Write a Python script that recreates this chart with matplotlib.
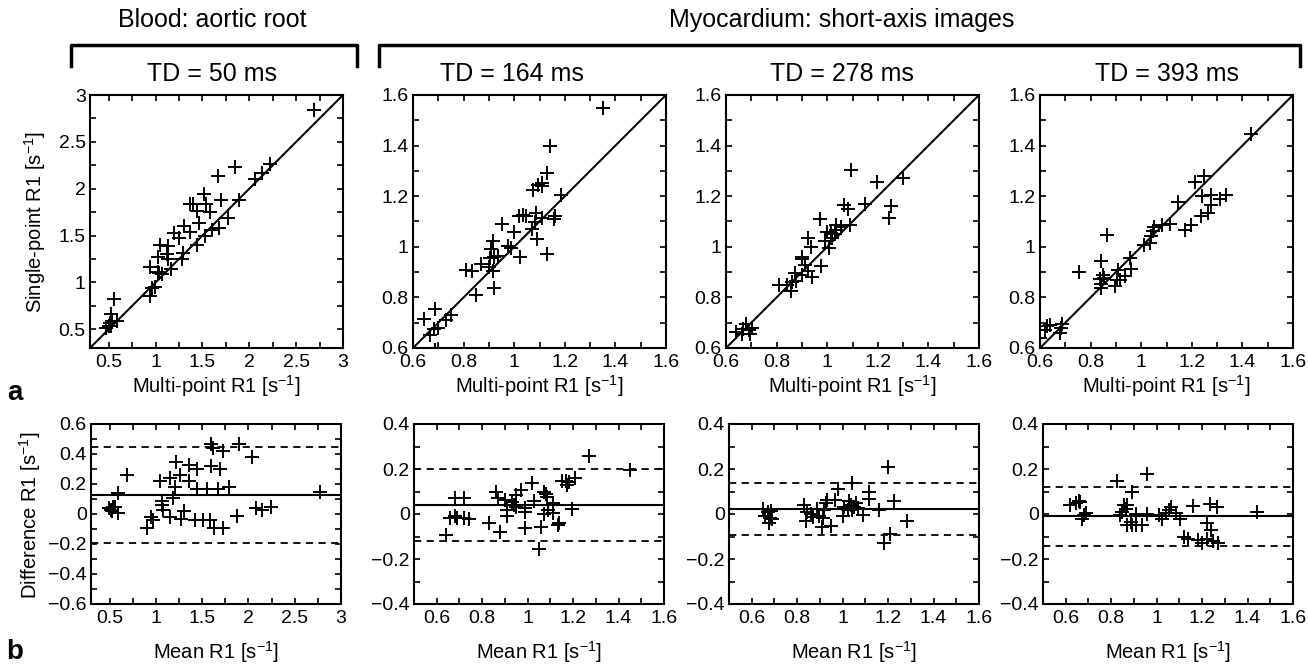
import numpy as np
import matplotlib.pyplot as plt
from matplotlib.lines import Line2D
from matplotlib.ticker import MultipleLocator, FuncFormatter

plt.rcParams['font.family'] = ['Liberation Sans', 'DejaVu Sans']
plt.rcParams['mathtext.default'] = 'regular'

# data: mean R1 and difference (single - multi)
td_labels = ["TD = 50 ms", "TD = 164 ms", "TD = 278 ms", "TD = 393 ms"]

mean_50 = [0.49, 0.52, 0.54, 0.56, 0.53, 0.59, 0.59, 0.69, 0.90, 0.95, 0.97, 1.05, 1.07, 1.07,
           1.08, 1.15, 1.15, 1.19, 1.21, 1.22, 1.26, 1.27, 1.30, 1.36, 1.36, 1.42, 1.45, 1.45,
           1.51, 1.55, 1.58, 1.60, 1.60, 1.62, 1.63, 1.67, 1.69, 1.73, 1.73, 1.79, 1.88, 1.90,
           2.04, 2.08, 2.15, 2.24, 2.77]
diff_50 = [0.04, 0.03, 0.045, 0.05, 0.02, 0.14, 0.005, 0.26, -0.09, -0.02, -0.04, 0.22, 0.09, 0.06,
           0.03, 0.24, -0.02, 0.11, 0.18, 0.35, 0.26, -0.03, 0.02, 0.33, 0.22, -0.04, 0.30, 0.17,
           -0.04, 0.17, -0.04, 0.32, 0.47, 0.44, -0.09, 0.17, 0.30, -0.09, 0.42, 0.18, -0.01, 0.47,
           0.38, 0.04, 0.03, 0.045, 0.15]

mean_164 = [0.64, 0.66, 0.68, 0.68, 0.69, 0.72, 0.72, 0.74, 0.83, 0.86, 0.87, 0.88, 0.90, 0.91,
            0.91, 0.93, 0.94, 0.95, 0.95, 0.97, 0.99, 0.99, 0.99, 1.02, 1.03, 1.05, 1.06, 1.07,
            1.08, 1.07, 1.085, 1.09, 1.11, 1.11, 1.135, 1.14, 1.15, 1.17, 1.175, 1.18, 1.195,
            1.21, 1.27, 1.45]
diff_164 = [-0.095, -0.016, 0.073, -0.008, -0.018, 0.07, -0.018, -0.023, -0.038, 0.10, 0.07,
            -0.082, 0.063, 0.018, -0.011, 0.055, 0.04, 0.03, 0.085, 0.107, 0.026, 0.008, -0.063,
            0.14, 0.06, -0.156, -0.058, 0.10, 0.089, 0.0, 0.075, 0.018, 0.004, 0.051, -0.048,
            -0.04, 0.148, 0.148, 0.13, 0.144, 0.021, 0.16, 0.26, 0.196]

mean_278 = [0.65, 0.66, 0.67, 0.675, 0.68, 0.686, 0.69, 0.83, 0.84, 0.845, 0.86, 0.87, 0.885,
            0.895, 0.91, 0.915, 0.92, 0.927, 0.93, 0.95, 0.967, 0.98, 1.0, 1.006, 1.025, 1.03,
            1.035, 1.04, 1.04, 1.05, 1.06, 1.066, 1.09, 1.115, 1.117, 1.16, 1.18, 1.20, 1.207,
            1.226, 1.285]
diff_278 = [0.023, -0.008, 0.007, -0.04, -0.018, 0.014, -0.023, 0.04, -0.033, 0.011, 0.0,
            -0.014, 0.023, -0.011, -0.058, -0.018, 0.018, 0.051, 0.063, -0.052, 0.063, 0.11,
            -0.011, 0.033, 0.016, 0.06, 0.04, 0.137, 0.018, 0.033, 0.051, 0.026, -0.004, 0.10,
            0.066, 0.018, -0.13, 0.208, -0.088, 0.06, -0.03]

mean_393 = [0.62, 0.646, 0.657, 0.664, 0.671, 0.68, 0.69, 0.826, 0.84, 0.846, 0.855, 0.865,
            0.87, 0.87, 0.885, 0.892, 0.893, 0.907, 0.91, 0.937, 0.956, 0.957, 1.01, 1.025,
            1.04, 1.054, 1.065, 1.085, 1.103, 1.12, 1.14, 1.162, 1.18, 1.20, 1.22, 1.22, 1.235,
            1.24, 1.25, 1.265, 1.27, 1.44]
diff_393 = [0.042, 0.05, 0.058, 0.052, -0.02, -0.003, 0.006, 0.147, -0.003, 0.01, 0.038, 0.023,
            -0.049, 0.04, -0.035, 0.10, -0.05, 0.0, -0.05, -0.049, 0.18, 0.0, -0.006, -0.02,
            0.006, 0.016, 0.03, 0.006, -0.024, -0.104, -0.11, 0.034, -0.114, -0.13, -0.11,
            -0.04, 0.045, -0.07, -0.12, 0.03, -0.13, 0.01]

# bias and limits of agreement
bias = [0.13, 0.04, 0.022, -0.008]
upper_loa = [0.445, 0.198, 0.138, 0.12]
lower_loa = [-0.19, -0.12, -0.094, -0.14]

means = [mean_50, mean_164, mean_278, mean_393]
diffs = [diff_50, diff_164, diff_278, diff_393]

scatter_lims = [(0.3, 3), (0.6, 1.6), (0.6, 1.6), (0.6, 1.6)]
scatter_major = [0.5, 0.2, 0.2, 0.2]
ba_xlims = [(0.3, 3), (0.5, 1.6), (0.5, 1.6), (0.5, 1.6)]
ba_ylims = [(-0.6, 0.6), (-0.4, 0.4), (-0.4, 0.4), (-0.4, 0.4)]

W, H = 1308, 665
fig = plt.figure(figsize=(W / 100, H / 100), dpi=100)


def px_axes(l, t, w, h):
    return fig.add_axes([l / W, 1 - (t + h) / H, w / W, h / H])


def fmt(v, pos):
    return ('%g' % round(v, 3)).replace('-', '\u2212')


def style(ax, xmaj, ymaj):
    for s in ax.spines.values():
        s.set_linewidth(1.5)
    ax.xaxis.set_major_locator(MultipleLocator(xmaj))
    ax.xaxis.set_minor_locator(MultipleLocator(xmaj / 2))
    ax.yaxis.set_major_locator(MultipleLocator(ymaj))
    ax.yaxis.set_minor_locator(MultipleLocator(ymaj / 2))
    ax.xaxis.set_major_formatter(FuncFormatter(fmt))
    ax.yaxis.set_major_formatter(FuncFormatter(fmt))
    ax.tick_params(which='both', direction='in', top=True, right=True, width=1.2,
                   labelsize=14, pad=4)
    ax.tick_params(axis='y', which='both', pad=3)
    ax.tick_params(which='major', length=4)
    ax.tick_params(which='minor', length=4)


top_lefts = [90, 413, 726, 1040]
bot_lefts = [91, 414, 729, 1043]

for i in range(4):
    m = np.array(means[i])
    d = np.array(diffs[i])
    multi = m - d / 2
    single = m + d / 2

    # scatter: single vs multi point
    ax = px_axes(top_lefts[i], 95, 253, 253)
    lo, hi = scatter_lims[i]
    ax.plot([lo, hi], [lo, hi], color='black', lw=1.5)
    ax.plot(multi, single, '+', color='black', ms=10, mew=1.4)
    ax.set_xlim(lo, hi)
    ax.set_ylim(lo, hi)
    style(ax, scatter_major[i], scatter_major[i])
    ax.set_xlabel('Multi-point R1 [s$^{-1}$]', fontsize=14.5, labelpad=2)

    # Bland-Altman
    bx = px_axes(bot_lefts[i], 424, 250, 180)
    bx.axhline(bias[i], color='black', lw=1.5)
    bx.axhline(upper_loa[i], color='black', lw=1.3, ls=(0, (4, 3)))
    bx.axhline(lower_loa[i], color='black', lw=1.3, ls=(0, (4, 3)))
    bx.plot(m, d, '+', color='black', ms=10, mew=1.4)
    bx.set_xlim(*ba_xlims[i])
    bx.set_ylim(*ba_ylims[i])
    style(bx, scatter_major[i], 0.2)
    bx.set_xlabel('Mean R1 [s$^{-1}$]', fontsize=14.5, labelpad=9)

fig.text(35 / W, 1 - 222 / H, 'Single-point R1 [s$^{-1}$]', rotation=90,
         ha='center', va='center', fontsize=14.5)
fig.text(30 / W, 1 - 515 / H, 'Difference R1 [s$^{-1}$]', rotation=90,
         ha='center', va='center', fontsize=14.5)

fig.text(15 / W, 1 - 393 / H, 'a', fontsize=20, fontweight='bold', ha='center', va='center')
fig.text(15 / W, 1 - 652 / H, 'b', fontsize=20, fontweight='bold', ha='center', va='center')

# group headers with brackets
fig.text(212 / W, 1 - 20 / H, 'Blood: aortic root', fontsize=18, ha='center', va='center')
fig.text(842 / W, 1 - 20 / H, 'Myocardium: short-axis images', fontsize=18,
         ha='center', va='center')
for x0, x1 in [(71, 357), (379, 1300)]:
    fig.add_artist(Line2D([x0 / W, x0 / W, x1 / W, x1 / W],
                          [1 - 66 / H, 1 - 45 / H, 1 - 45 / H, 1 - 66 / H],
                          color='black', lw=2.5))

td_x = [212, 512, 842, 1167]
for x, lab in zip(td_x, td_labels):
    fig.text(x / W, 1 - 74 / H, lab, fontsize=18, ha='center', va='center')

fig.savefig('out.png', dpi=100)
